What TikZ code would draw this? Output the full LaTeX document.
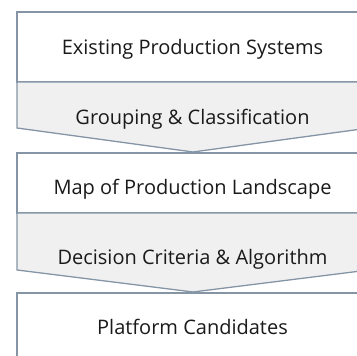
\documentclass[tikz,border=0pt]{standalone}
\usepackage{fontspec}
\setmainfont{Open Sans}
\definecolor{edge}{HTML}{8595A5}
\definecolor{chevfill}{HTML}{F0F0F0}
\definecolor{ink}{HTML}{1A1A1A}
\begin{document}
\begin{tikzpicture}[x=1pt,y=1pt,
  stage/.style={draw=edge,line width=1.3pt,fill=white},
  chev/.style={draw=edge,line width=1.3pt,fill=chevfill},
  lbl/.style={anchor=base,inner sep=0pt,text=ink,font=\fontsize{20}{24}\selectfont}]
\useasboundingbox (0,0) rectangle (357,356);
\clip (0,0) rectangle (357,356);
% shapes (pixel coords, y flipped)
\draw[stage] (17,344) rectangle (369,274);
\draw[chev] (17,274) -- (369,274) -- (369,228) -- (193,204) -- (17,228) -- cycle;
\draw[stage] (17,203) rectangle (369,143);
\draw[chev] (17,143) -- (369,143) -- (369,86) -- (193,64) -- (17,86) -- cycle;
\draw[stage] (17,63) rectangle (369,-7);
% labels
\node[lbl] (s1) at (192.5,301.5) {Existing Production Systems};
\node[lbl] (t1) at (192.5,231.5) {Grouping \& Classification};
\node[lbl] (s2) at (192.5,161.5) {Map of Production Landscape};
\node[lbl] (t2) at (192.5,91.5) {Decision Criteria \& Algorithm};
\node[lbl] (s3) at (192.5,21.5) {Platform Candidates};
\end{tikzpicture}
\end{document}
